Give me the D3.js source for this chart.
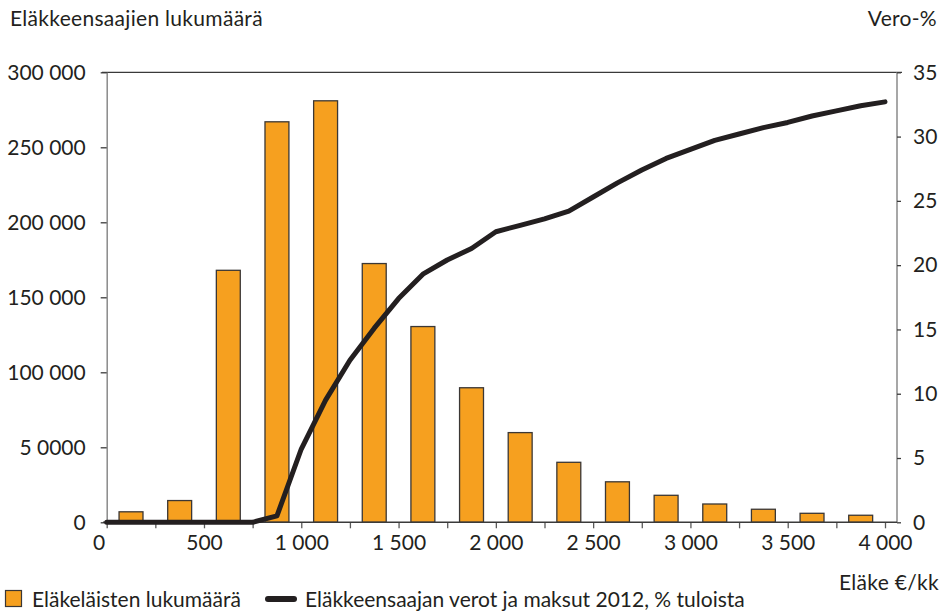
<!DOCTYPE html>
<html>
<head>
<meta charset="utf-8">
<script src="https://cdn.jsdelivr.net/npm/d3@7/dist/d3.min.js"></script>
<style>
  html, body { margin: 0; padding: 0; background: #fff; }
  svg text { font-family: Lato, "Open Sans", sans-serif; fill: #231f20; letter-spacing: 0.3px; }
  svg .tick text, svg .legend text { letter-spacing: 0; }
</style>
</head>
<body>
<svg id="chart" width="941" height="612"></svg>
<script>
// Pension brackets (bar centres, €/month) and number of pensioners in each
const barCenters = [125, 375, 625, 875, 1125, 1375, 1625, 1875, 2125, 2375, 2625, 2875, 3125, 3375, 3625, 3875];
const pensioners = [7000, 14500, 168000, 267000, 281000, 172500, 130500, 89700, 59800, 40000, 27000, 18000, 12200, 8700, 6000, 4700];

// Taxes and contributions 2012, % of income
const taxPension = [0, 125, 250, 375, 500, 625, 750, 875, 1000, 1125, 1250, 1375, 1500, 1625, 1750, 1875, 2000, 2125, 2250, 2375, 2500, 2625, 2750, 2875, 3000, 3125, 3250, 3375, 3500, 3625, 3750, 3875, 4000];
const taxRate = [0, 0, 0, 0, 0, 0, 0, 0.5, 5.7, 9.5, 12.6, 15.1, 17.4, 19.3, 20.4, 21.3, 22.6, 23.1, 23.6, 24.2, 25.3, 26.4, 27.4, 28.3, 29.0, 29.7, 30.2, 30.7, 31.1, 31.6, 32.0, 32.4, 32.7];

// Axis ticks
const xTicks = d3.range(0, 4001, 250);
const leftTicks = [0, 50000, 100000, 150000, 200000, 250000, 300000];
const leftTickLabels = ["0", "5 0000", "100 000", "150 000", "200 000", "250 000", "300 000"];
const rightTicks = [0, 5, 10, 15, 20, 25, 30, 35];

const svg = d3.select("#chart");
const plotLeft = 106.7, plotRight = 897, plotTop = 72.3, plotBottom = 522.3;
const fontSize = 21;

const x = d3.scaleLinear().domain([0, 4000]).range([plotLeft, 885]);
const yL = d3.scaleLinear().domain([0, 300000]).range([plotBottom, plotTop]);
const yR = d3.scaleLinear().domain([0, 35]).range([plotBottom, plotTop]);

const fmt = d3.formatLocale({ decimal: ",", thousands: " ", grouping: [3], currency: ["", " €"] }).format(",d");

// Bars
const barW = x(123) - x(0);
svg.append("g").selectAll("rect").data(barCenters).join("rect")
  .attr("x", (d) => x(d) - barW / 2)
  .attr("y", (d, i) => yL(pensioners[i]))
  .attr("width", barW)
  .attr("height", (d, i) => yL(0) - yL(pensioners[i]))
  .attr("fill", "#f6a01f")
  .attr("stroke", "#3b3735")
  .attr("stroke-width", 1.3);

// Frame lines
svg.append("line").attr("x1", 102).attr("x2", 902).attr("y1", plotTop).attr("y2", plotTop)
  .attr("stroke", "#3a3a3a").attr("stroke-width", 1.3);
svg.append("line").attr("x1", plotRight).attr("x2", plotRight).attr("y1", plotTop).attr("y2", plotBottom)
  .attr("stroke", "#8a8a8a").attr("stroke-width", 1.5);

// Bottom axis
const gx = svg.append("g").attr("transform", `translate(0,${plotBottom})`)
  .call(d3.axisBottom(x).tickValues(xTicks).tickSize(6).tickSizeOuter(0)
    .tickFormat((d) => (d % 500 === 0 ? fmt(d) : "")));
gx.select(".domain").remove();
gx.append("line").attr("x1", 103).attr("x2", plotRight).attr("stroke", "#3a3a3a").attr("stroke-width", 1.4);
gx.selectAll(".tick line").attr("stroke", "#5a5a5a").attr("stroke-width", 1.3);
gx.selectAll(".tick text").attr("font-size", fontSize).attr("font-family", "Lato, 'Open Sans', sans-serif")
  .attr("fill", "#231f20").attr("y", 13).attr("dy", "0.71em")
  .attr("dx", (d) => (d === 0 ? -8 : 0));

// Left axis
const gl = svg.append("g").attr("transform", `translate(${plotLeft},0)`)
  .call(d3.axisLeft(yL).tickValues(leftTicks).tickSize(6).tickSizeOuter(0)
    .tickFormat((d, i) => leftTickLabels[i]));
gl.select(".domain").attr("stroke", "#8a8a8a").attr("stroke-width", 1.5);
gl.selectAll(".tick line").attr("stroke", "#3a3a3a").attr("stroke-width", 1.3);
gl.selectAll(".tick text").attr("font-size", fontSize).attr("font-family", "Lato, 'Open Sans', sans-serif")
  .attr("fill", "#231f20").attr("x", -21);

// Right axis
const gr = svg.append("g").attr("transform", `translate(${plotRight},0)`)
  .call(d3.axisRight(yR).tickValues(rightTicks).tickSize(4).tickSizeOuter(0));
gr.select(".domain").remove();
gr.selectAll(".tick line").attr("stroke", "#3a3a3a").attr("stroke-width", 1.3);
gr.selectAll(".tick text").attr("font-size", fontSize).attr("font-family", "Lato, 'Open Sans', sans-serif")
  .attr("fill", "#231f20").attr("x", 16);

// Tax line
const line = d3.line().x((d) => x(d)).y((d, i) => yR(taxRate[i]));
svg.append("path").datum(taxPension)
  .attr("d", line)
  .attr("fill", "none")
  .attr("stroke", "#231f20")
  .attr("stroke-width", 5)
  .attr("stroke-linejoin", "round")
  .attr("stroke-linecap", "round");

// Titles
svg.append("text").attr("x", 10).attr("y", 26).attr("font-size", fontSize).text("Eläkkeensaajien lukumäärä");
svg.append("text").attr("x", 937).attr("y", 26).attr("font-size", fontSize).attr("text-anchor", "end").text("Vero-%");
svg.append("text").attr("x", 939).attr("y", 590).attr("font-size", fontSize).attr("text-anchor", "end").text("Eläke €/kk");

// Legend
const lg = svg.append("g").attr("class", "legend");
lg.append("rect").attr("x", 5.5).attr("y", 590.5).attr("width", 16).attr("height", 16)
  .attr("fill", "#f6a01f").attr("stroke", "#3b3735").attr("stroke-width", 1.2);
lg.append("text").attr("x", 32).attr("y", 607).attr("font-size", fontSize).text("Eläkeläisten lukumäärä");
lg.append("line").attr("x1", 268).attr("x2", 294).attr("y1", 599).attr("y2", 599)
  .attr("stroke", "#231f20").attr("stroke-width", 6).attr("stroke-linecap", "round");
lg.append("text").attr("x", 305).attr("y", 607).attr("font-size", fontSize).text("Eläkkeensaajan verot ja maksut 2012, % tuloista");
</script>
</body>
</html>
